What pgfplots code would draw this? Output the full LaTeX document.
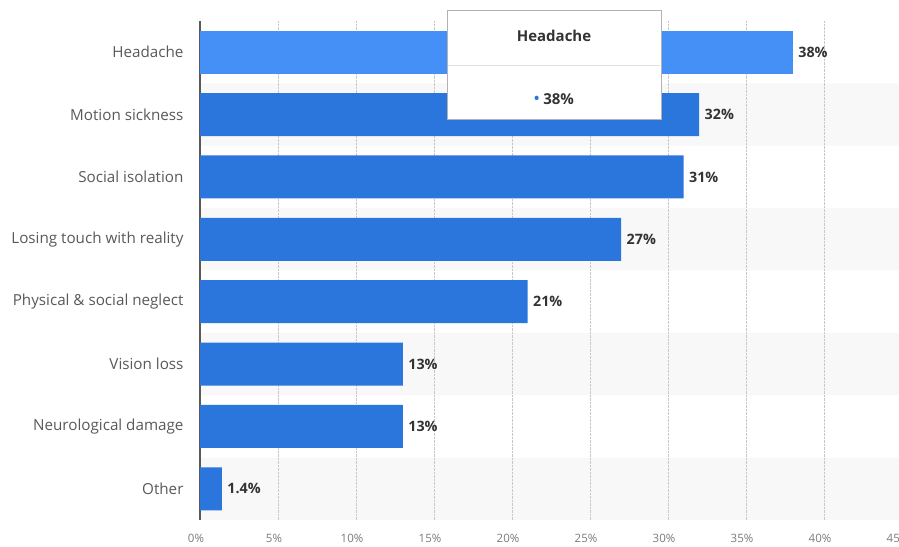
\documentclass[border=0pt]{standalone}
\usepackage{pgfplots}
\pgfplotsset{compat=1.18}
\usepackage{fontspec}
\setmainfont{Open Sans}

\definecolor{barblue}{HTML}{2A76DD}
\definecolor{hoverblue}{HTML}{4590F7}
\definecolor{band}{HTML}{F8F8F8}
\definecolor{catgray}{HTML}{595959}
\definecolor{tickgray}{HTML}{7A7A7A}
\definecolor{valgray}{HTML}{333333}

\begin{document}
\begin{tikzpicture}[x=1pt,y=1pt]
\begin{axis}[
    scale only axis, width=702pt, height=499pt,
    set layers,
    xmin=0, xmax=45,
    ymin=-0.5, ymax=7.5, y dir=reverse,
    xtick={0,5,...,45},
    xticklabel={\pgfmathprintnumber{\tick}\%},
    ytick={0,...,7},
    yticklabels={Headache, Motion sickness, Social isolation, Losing touch with reality,
                 Physical \& social neglect, Vision loss, Neurological damage, Other},
    major tick length=0pt,
    axis x line*=bottom, axis y line*=left,
    axis line style={-},
    x axis line style={draw=none},
    y axis line style={draw=black!65, line width=1.2pt},
    xmajorgrids,
    grid style={densely dotted, black!22, line width=0.8pt},
    /pgf/number format/assume math mode=true,
    xticklabel style={font=\fontsize{11.5}{13}\selectfont, text=tickgray, yshift=-11pt, xshift=-4pt},
    yticklabel style={font=\fontsize{15.2}{17}\selectfont, text=catgray, xshift=-13pt},
    xbar, bar shift=0pt, bar width=0.69,
]
\coordinate (BL) at (axis cs:0,7.5);
\addplot[on layer=axis background, bar width=1, fill=band, draw=none]
    coordinates {(45,1) (45,3) (45,5) (45,7)};
\addplot[fill=hoverblue, draw=none,
    nodes near coords={\pgfmathprintnumber{\pgfplotspointmeta}\%},
    every node near coord/.append style={font=\bfseries\fontsize{14.3}{16}\selectfont, text=valgray, anchor=west, xshift=2pt}]
    coordinates {(38,0)};
\addplot[fill=barblue, draw=none,
    nodes near coords={\pgfmathprintnumber{\pgfplotspointmeta}\%},
    every node near coord/.append style={font=\bfseries\fontsize{14.3}{16}\selectfont, text=valgray, anchor=west, xshift=2pt}]
    coordinates {(32,1) (31,2) (27,3) (21,4) (13,5) (13,6) (1.4,7)};
\end{axis}
\begin{scope}[shift={(BL)}, xshift=-200pt, yshift=-26pt]
% tooltip
\draw[black!30, fill=white, line width=0.8pt] (447,427) rectangle (661,536);
\draw[black!12, line width=1pt] (448,480) -- (660,480);
\node[font=\bfseries\fontsize{15}{17}\selectfont, text=valgray] at (554,510) {Headache};
\node[font=\bfseries\fontsize{15}{17}\selectfont, text=valgray] at (554,447)
    {{\color{barblue}\fontsize{14}{14}\selectfont\raisebox{0.5pt}{•}}\ 38\%};
\pgfresetboundingbox
\path[use as bounding box] (0,0) rectangle (899,546);
\end{scope}
\end{tikzpicture}
\end{document}
